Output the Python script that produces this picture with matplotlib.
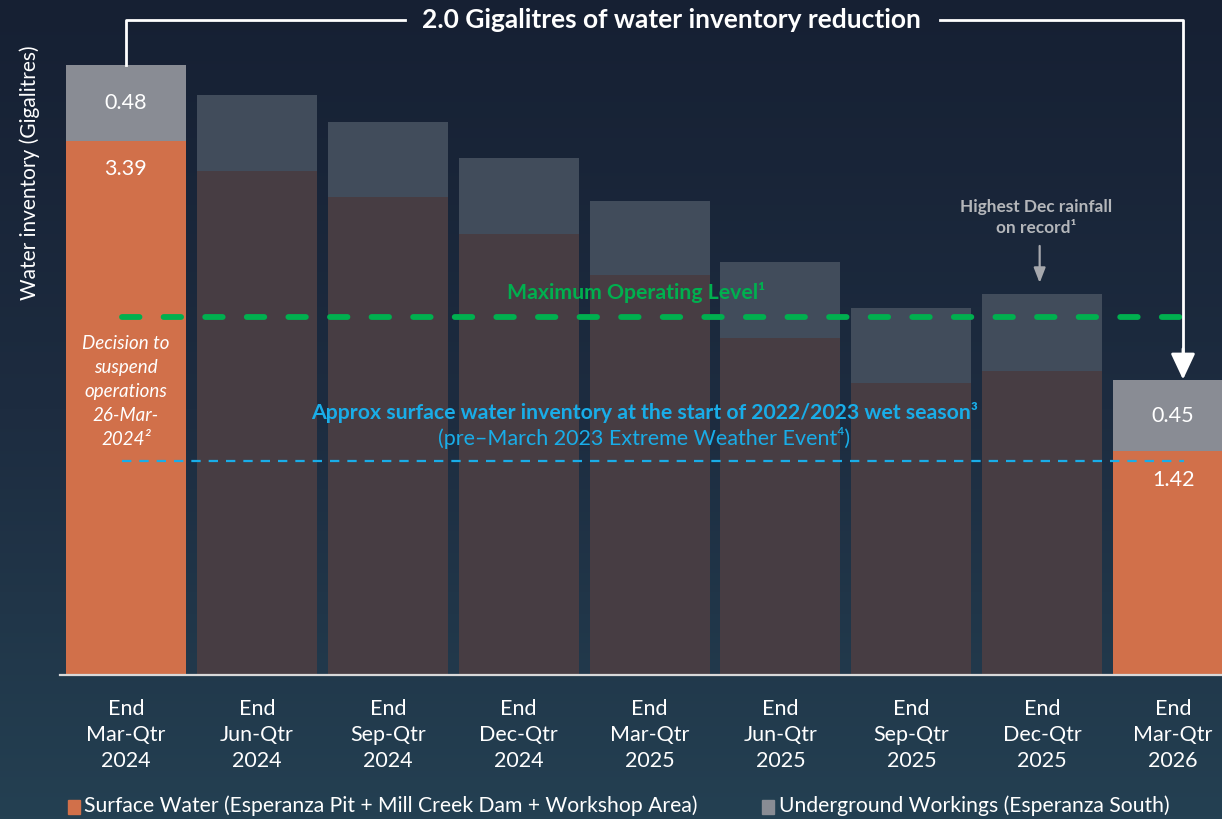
import numpy as np
import matplotlib
matplotlib.use("Agg")
import matplotlib.pyplot as plt

# --- data (Gigalitres) ---
quarters = ["End\nMar-Qtr\n2024", "End\nJun-Qtr\n2024", "End\nSep-Qtr\n2024",
            "End\nDec-Qtr\n2024", "End\nMar-Qtr\n2025", "End\nJun-Qtr\n2025",
            "End\nSep-Qtr\n2025", "End\nDec-Qtr\n2025", "End\nMar-Qtr\n2026"]
surface = [3.39, 3.20, 3.03, 2.80, 2.54, 2.14, 1.85, 1.93, 1.42]
underground = [0.48, 0.48, 0.48, 0.48, 0.47, 0.48, 0.48, 0.49, 0.45]
max_operating_level = 2.27
pre_event_level = 1.36
reduction_label = "2.0 Gigalitres of water inventory reduction"

ORANGE = "#D1704A"
GREY = "#898C94"
DIM_SURF = "#473D43"
DIM_UG = "#414C5B"
GREEN = "#00B04F"
BLUE = "#19ADE8"
WHITE = "#FFFFFF"

plt.rcParams["font.family"] = ["Lato", "DejaVu Sans"]

fig = plt.figure(figsize=(12.22, 8.19), dpi=100)

# background gradient
bg = fig.add_axes([0, 0, 1, 1], zorder=0)
grad = np.linspace(0, 1, 256).reshape(-1, 1)
cmap = matplotlib.colors.LinearSegmentedColormap.from_list("bg", ["#162033", "#1d2c40", "#244052"])
bg.imshow(grad, aspect="auto", cmap=cmap, extent=[0, 1, 0, 1], origin="upper")
bg.axis("off")

ax = fig.add_axes([60 / 1222, 144 / 819, 1 - 60 / 1222, 675 / 819], zorder=1)
ax.patch.set_alpha(0)

x = np.arange(len(quarters))
highlight = [0, len(quarters) - 1]
surf_colors = [ORANGE if i in highlight else DIM_SURF for i in x]
ug_colors = [GREY if i in highlight else DIM_UG for i in x]

ax.bar(x, surface, width=0.917, color=surf_colors, zorder=2)
ax.bar(x, underground, bottom=surface, width=0.917, color=ug_colors, zorder=2)

ax.set_xlim(-0.504, 8.373)
ax.set_ylim(0, 675 / 157.6)

for s in ["top", "right", "left"]:
    ax.spines[s].set_visible(False)
ax.spines["bottom"].set_color("#D9D9D9")
ax.spines["bottom"].set_linewidth(1.6)
ax.set_yticks([])
ax.set_xticks(x)
ax.set_xticklabels(quarters, color=WHITE, fontsize=15.5, linespacing=1.4)
ax.tick_params(axis="x", length=0, pad=17)

fig.text(30 / 1222, 1 - 45 / 819, "Water inventory (Gigalitres)", rotation=90,
         color=WHITE, fontsize=15, ha="center", va="top")

# value labels on highlighted bars
for i in highlight:
    ax.text(i, surface[i] + underground[i] / 2, f"{underground[i]:.2f}",
            color=WHITE, fontsize=15.5, ha="center", va="center", zorder=4)
    ax.text(i, surface[i] - 0.18, f"{surface[i]:.2f}",
            color=WHITE, fontsize=15.5, ha="center", va="center", zorder=4)

# reference lines
x0, x1 = -0.03, 8.08
ax.plot([x0, x1], [max_operating_level] * 2, color=GREEN, lw=4.2,
        dashes=(3.0, 4.13), dash_capstyle="round", zorder=3)
ax.text(3.9, 2.43, "Maximum Operating Level\u00b9", color=GREEN, fontsize=15.3,
        fontweight="bold", ha="center", va="center", zorder=4)

ax.plot([x0, x1], [pre_event_level] * 2, color=BLUE, lw=1.6,
        dashes=(4.2, 3.6), zorder=3)
ax.text(3.96, 1.665, "Approx surface water inventory at the start of 2022/2023 wet season\u00b3",
        color=BLUE, fontsize=15.3, fontweight="bold", ha="center", va="center", zorder=4)
ax.text(3.96, 1.505, "(pre\u2013March 2023 Extreme Weather Event\u2074)",
        color=BLUE, fontsize=15.5, ha="center", va="center", zorder=4)

# decision note
ax.text(0, 1.80, "Decision to\nsuspend\noperations\n26-Mar-\n2024\u00b2", color=WHITE,
        fontsize=13.5, style="italic", ha="center", va="center", linespacing=1.5, zorder=4)

# highest rainfall note
ax.text(6.95, 2.905, "Highest Dec rainfall\non record\u00b9", color="#B4B6BA", fontsize=12.4,
        fontweight="bold", ha="center", va="center", linespacing=1.4, zorder=4)
ax.annotate("", xy=(6.98, 2.47), xytext=(6.98, 2.74),
            arrowprops=dict(arrowstyle="-|>,head_length=0.9,head_width=0.35",
                            color="#A6A8AD", lw=1.6), zorder=4)

# reduction bracket
top_y = 655 / 157.6
first_total = surface[0] + underground[0]
last_total = surface[-1] + underground[-1]
rx = 8.075
ax.plot([0, 0, 2.13], [first_total, top_y, top_y], color=WHITE, lw=2, clip_on=False, zorder=4)
ax.plot([6.22, rx, rx], [top_y, top_y, last_total + 0.17], color=WHITE, lw=2,
        clip_on=False, zorder=4)
ax.annotate("", xy=(rx, last_total + 0.005), xytext=(rx, last_total + 0.2),
            arrowprops=dict(arrowstyle="-|>,head_length=1.6,head_width=0.75",
                            color=WHITE, lw=2, shrinkA=0, shrinkB=0), zorder=4)
ax.text(4.17, top_y, reduction_label, color=WHITE, fontsize=19, fontweight="bold",
        ha="center", va="center", zorder=4, clip_on=False)

# legend
fig.patches.append(matplotlib.patches.Rectangle((68 / 1222, 1 - 814 / 819), 12 / 1222, 14 / 819,
                                                color=ORANGE, transform=fig.transFigure))
fig.text(84 / 1222, 1 - 806 / 819, "Surface Water (Esperanza Pit + Mill Creek Dam + Workshop Area)",
         color=WHITE, fontsize=15.2, ha="left", va="center")
fig.patches.append(matplotlib.patches.Rectangle((762 / 1222, 1 - 814 / 819), 12 / 1222, 14 / 819,
                                                color=GREY, transform=fig.transFigure))
fig.text(779 / 1222, 1 - 806 / 819, "Underground Workings (Esperanza South)",
         color=WHITE, fontsize=15.2, ha="left", va="center")

fig.savefig("out.png", dpi=100)
